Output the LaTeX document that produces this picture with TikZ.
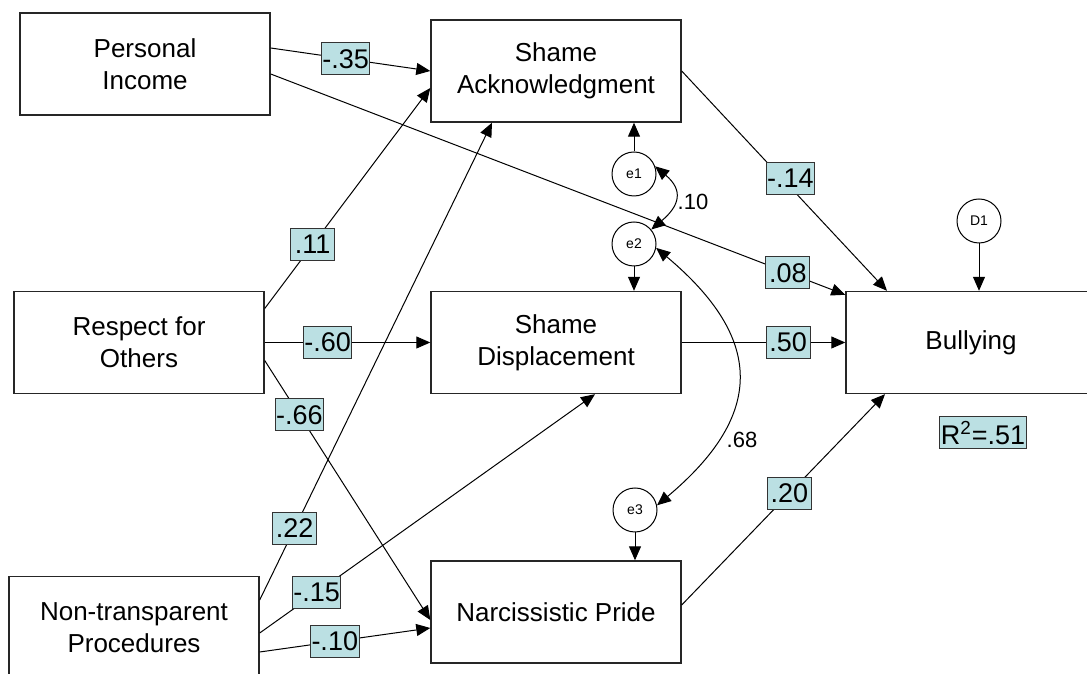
\documentclass[tikz,border=0pt]{standalone}
\usepackage{fontspec}
\setmainfont{Liberation Sans}
\usetikzlibrary{arrows.meta}
\definecolor{coeffill}{RGB}{187,224,227}
\tikzset{
  var/.style={draw=black!85, line width=0.7pt, minimum width=125pt, minimum height=51pt, align=center, font=\fontsize{13}{16}\selectfont},
  err/.style={draw, circle, line width=0.5pt, minimum size=22pt, inner sep=0pt, font=\fontsize{7}{8}\selectfont},
  coef/.style={draw=black!80, fill=coeffill, line width=0.5pt, inner xsep=0.5pt, inner ysep=0pt, minimum width=22pt, minimum height=16pt, font=\fontsize{13.5}{14}\selectfont},
  arr/.style={-{Triangle[length=7pt,width=6pt]}, line width=0.5pt},
  corr/.style={{Triangle[length=7pt,width=6pt]}-{Triangle[length=7pt,width=6pt]}, line width=0.5pt}
}
\begin{document}
\begin{tikzpicture}[x=0.5pt,y=0.5pt]
\useasboundingbox (0,0) rectangle (1087,674);
% variables
\node[var] (pinc) at (145,610) {Personal\\Income};
\node[var] (sack) at (556,603) {Shame\\Acknowledgment};
\node[var] (resp) at (139,331.5) {Respect for\\Others};
\node[var] (sdis) at (556,331.5) {Shame\\Displacement};
\node[var] (bull) at (971,331.5) {Bullying};
\node[var] (ntp) at (134,46.5) {Non-transparent\\Procedures};
\node[var] (npri) at (556,62) {Narcissistic Pride};
% disturbances
\node[err] (e1) at (634,500) {e1};
\node[err] (e2) at (634,430) {e2};
\node[err] (e3) at (635,164) {e3};
\node[err] (d1) at (979,453) {D1};
% paths
\draw[arr] ([yshift=8pt]pinc.east) -- (sack.west) node[coef,pos=0.47] {-.35};
\draw[arr] ([yshift=-5pt]pinc.east) -- ([yshift=-2pt]bull.north west) node[coef,pos=0.9] {.08};
\draw[arr] ([yshift=17pt]resp.east) -- ([yshift=-8.5pt]sack.west) node[coef,pos=0.29] {.11};
\draw[arr] (resp.east) -- (sdis.west) node[coef,pos=0.38] {-.60};
\draw[arr] ([yshift=-9pt]resp.east) -- ([yshift=-4pt]npri.west) node[coef,pos=0.21] {-.66};
\draw[arr] ([yshift=13.75pt]ntp.east) -- ([xshift=-32pt]sack.south) node[coef,pos=0.15] {.22};
\draw[arr] ([yshift=-2.75pt]ntp.east) -- ([xshift=19.5pt]sdis.south) node[coef,pos=0.17] {-.15};
\draw[arr] ([yshift=-12.25pt]ntp.east) -- ([yshift=-8pt]npri.west) node[coef,pos=0.44] {-.10};
\draw[arr] (sack.east) -- ([xshift=-42pt]bull.north) node[coef,pos=0.49,xshift=4pt] {-.14};
\draw[arr] (sdis.east) -- (bull.west) node[coef,pos=0.65] {.50};
\draw[arr] ([yshift=3.5pt]npri.east) -- ([xshift=-43pt]bull.south) node[coef,pos=0.53] {.20};
\draw[arr] (d1.south) -- (d1.south |- bull.north);
\draw[arr] (e1.north) -- (e1.north |- sack.south);
\draw[arr] (e2.south) -- (e2.south |- sdis.north);
\draw[arr] (e3.south) -- (e3.south |- npri.north);
% correlations
\draw[corr] (e1.20) to[out=-40,in=40,looseness=1.5] (e2.40);
\draw[corr] (e2.-10) to[out=-40,in=40,looseness=1.4] (e3.12);
\node[font=\fontsize{11}{12}\selectfont] (r12) at (693,472) {.10};
\node[font=\fontsize{11}{12}\selectfont] (r23) at (742,234) {.68};
\node[coef] (rsq) at (983,241) {R\textsuperscript{2}=.51};
\end{tikzpicture}
\end{document}
